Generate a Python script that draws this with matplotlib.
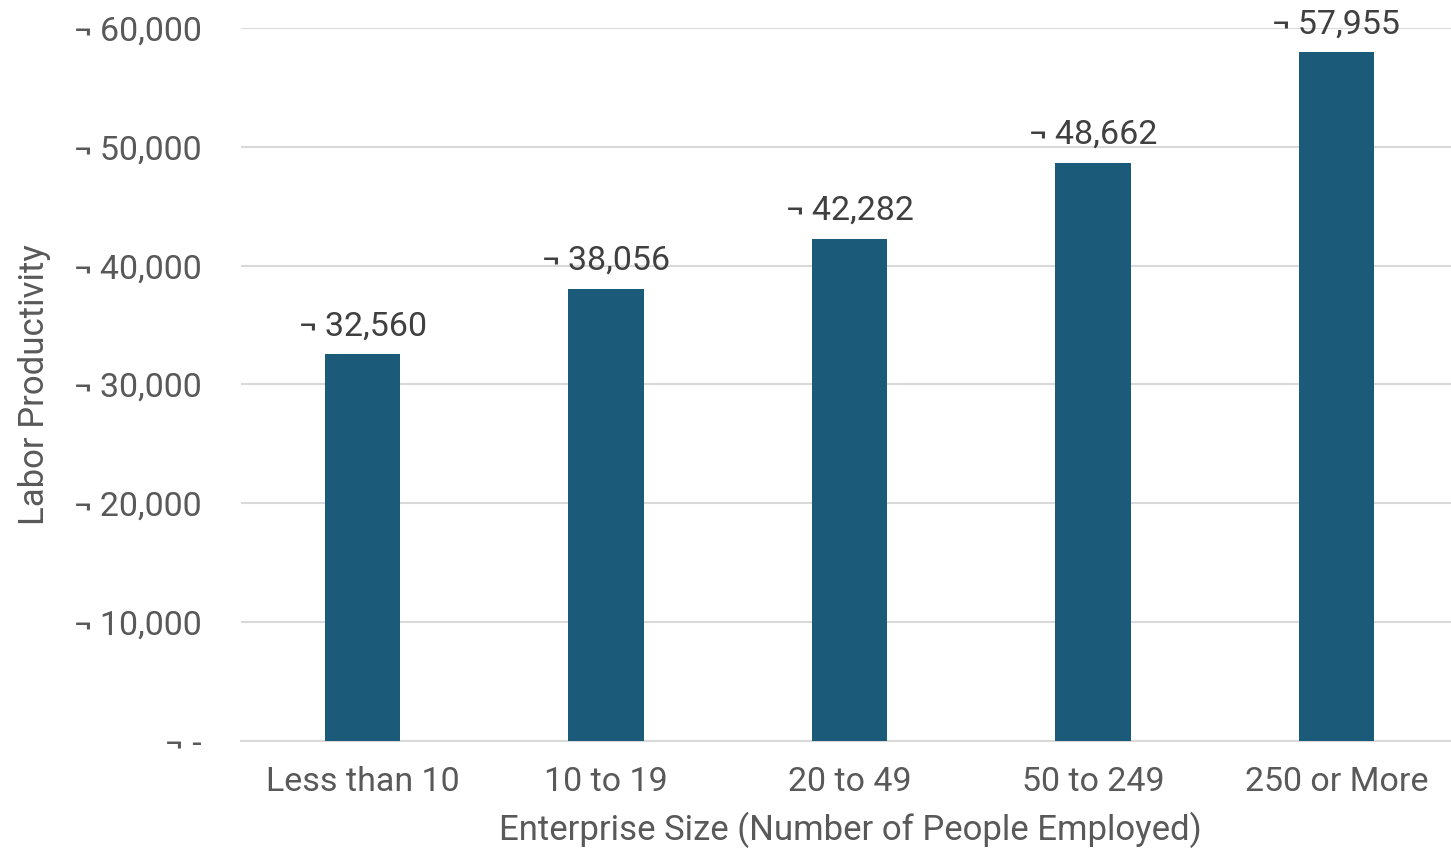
import matplotlib.pyplot as plt
from matplotlib.ticker import FuncFormatter

plt.rcParams['font.family'] = ['Roboto', 'DejaVu Sans']

sizes = ["Less than 10", "10 to 19", "20 to 49", "50 to 249", "250 or More"]
productivity = [32560, 38056, 42282, 48662, 57955]
y_ticks = [0, 10000, 20000, 30000, 40000, 50000, 60000]


def euro_fmt(v, pos=None):
    if v == 0:
        return "\u00ac -"
    return "\u00ac\u2009{:,.0f}".format(v)


fig = plt.figure(figsize=(14.51, 8.48), dpi=100)
ax = fig.add_axes([241 / 1451, 1 - 741 / 848, 1217 / 1451, (741 - 28) / 848])

x = range(len(sizes))
ax.bar(x, productivity, width=0.31, color="#1c5a7a", zorder=3)

for xi, v in zip(x, productivity):
    ax.text(xi, v + 1000, euro_fmt(v), ha="center", va="bottom",
            fontsize=24.5, color="#404040")

ax.set_xlim(-0.5, len(sizes) - 0.5)
ax.set_ylim(0, 60000)
ax.set_yticks(y_ticks)
ax.yaxis.set_major_formatter(FuncFormatter(euro_fmt))
ax.set_xticks(list(x))
ax.set_xticklabels(sizes)
ax.tick_params(axis="both", length=0, labelsize=24.5, labelcolor="#595959")
ax.tick_params(axis="x", pad=18)
ax.tick_params(axis="y", pad=28)

ax.grid(axis="y", color="#d9d9d9", linewidth=1.5, zorder=0)
for s in ["top", "right", "left"]:
    ax.spines[s].set_visible(False)
ax.spines["bottom"].set_color("#d9d9d9")
ax.spines["bottom"].set_linewidth(1.5)

fig.text(850 / 1451, 1 - 830 / 848, "Enterprise Size (Number of People Employed)",
         ha="center", va="center", fontsize=25, color="#595959")
ax.set_ylabel("Labor Productivity", fontsize=25, color="#595959")
ax.yaxis.set_label_coords(-190 / 1217, 0.5)

fig.savefig("out.png", dpi=100)
